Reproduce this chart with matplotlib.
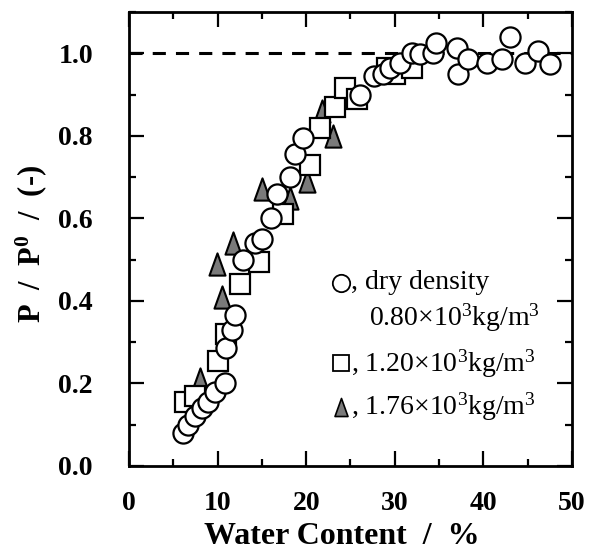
import matplotlib
matplotlib.use("Agg")
import matplotlib.pyplot as plt
from matplotlib.ticker import MultipleLocator
from matplotlib.path import Path

plt.rcParams['font.family'] = ['Liberation Serif', 'DejaVu Serif']
plt.rcParams['mathtext.default'] = 'regular'

# Data: dry density 0.80e3 kg/m3 (circles)
circ_x = [6.1, 6.7, 7.4, 8.2, 8.9, 9.7, 10.8, 11.0, 11.6, 12.0, 12.9, 14.2, 15.0,
          16.0, 16.7, 18.2, 18.7, 19.6, 26.1, 27.6, 28.7, 29.5, 30.6, 31.9, 32.8,
          34.3, 34.7, 37.0, 37.1, 38.3, 40.4, 42.1, 43.0, 44.7, 46.2, 47.5]
circ_y = [0.08, 0.10, 0.12, 0.14, 0.155, 0.18, 0.20, 0.285, 0.33, 0.365, 0.50, 0.54, 0.55,
          0.60, 0.66, 0.70, 0.756, 0.795, 0.90, 0.945, 0.95, 0.965, 0.976, 1.0, 0.998,
          1.0, 1.025, 1.012, 0.95, 0.985, 0.976, 0.986, 1.04, 0.976, 1.005, 0.973]
# 1.20e3 kg/m3 (squares)
sq_x = [6.3, 7.5, 10.0, 10.9, 12.5, 14.7, 17.4, 20.4, 21.6, 23.3, 24.4, 25.7, 29.1, 30.0, 31.9]
sq_y = [0.155, 0.17, 0.255, 0.32, 0.44, 0.495, 0.61, 0.73, 0.82, 0.87, 0.915, 0.89, 0.965, 0.95, 0.965]
# 1.76e3 kg/m3 (triangles)
tri_x = [8.0, 9.9, 10.5, 11.7, 15.0, 18.2, 20.1, 21.8, 23.0]
tri_y = [0.21, 0.49, 0.41, 0.54, 0.67, 0.65, 0.69, 0.86, 0.80]

xticks = [0, 10, 20, 30, 40, 50]
yticks = [0.0, 0.2, 0.4, 0.6, 0.8, 1.0]

fig = plt.figure(figsize=(5.98, 5.55), dpi=100)
ax = fig.add_axes([0.2157, 0.1604, 0.7408, 0.818])

ax.plot([0, 50], [1.0, 1.0], color='black', lw=2.2, dashes=(4.3, 3.3), zorder=1)

tri_marker = Path([(-0.36, -0.5), (0.36, -0.5), (0.0, 0.5), (-0.36, -0.5)],
                  [Path.MOVETO, Path.LINETO, Path.LINETO, Path.CLOSEPOLY])

ax.plot(tri_x, tri_y, linestyle='none', marker=tri_marker, ms=16,
        mfc='#7a7a7a', mec='black', mew=1.5, zorder=2)
ax.plot(sq_x, sq_y, linestyle='none', marker='s', ms=14.5,
        mfc='white', mec='black', mew=1.6, zorder=3)
ax.plot(circ_x, circ_y, linestyle='none', marker='o', ms=14.5,
        mfc='white', mec='black', mew=1.6, zorder=4)

ax.set_xlim(0, 50)
ax.set_ylim(0, 1.1)
ax.set_xticks(xticks)
ax.set_yticks(yticks)
ax.set_xticklabels([str(v) for v in xticks])
ax.set_yticklabels([f"{v:.1f}" for v in yticks])
ax.xaxis.set_minor_locator(MultipleLocator(5))
ax.yaxis.set_minor_locator(MultipleLocator(0.1))
ax.tick_params(which='both', direction='in', top=True, right=True, width=1.6)
ax.tick_params(which='major', length=10.5, labelsize=20)
ax.tick_params(axis='x', which='major', pad=18)
ax.tick_params(axis='y', which='major', pad=26)
ax.tick_params(which='minor', length=5)
for lab in ax.get_xticklabels() + ax.get_yticklabels():
    lab.set_fontweight('bold')
for sp in ax.spines.values():
    sp.set_linewidth(2)

fig.text(342 / 598, 1 - 537 / 555, 'Water Content  /  %', fontsize=23,
         fontweight='bold', ha='center', va='center')
fig.text(31 / 598, 1 - 244 / 555, 'P  /  P$^{0}$  /  (-)', fontsize=22,
         fontweight='bold', ha='center', va='center', rotation=90)

# Legend (manual)
def px2data(px, py):
    return (px - 129) / 8.86, (466 - py) / 414.0

mx, my = px2data(341, 282)
ax.plot([mx], [my], marker='o', ms=12.5, mfc='white', mec='black', mew=1.3, linestyle='none', zorder=5)
tx, ty = px2data(351, 282)
ax.text(tx, ty, ', dry density', fontsize=20, va='center', ha='left')
tx, ty = px2data(540, 317)
ax.text(tx, ty, '0.80×10$^{3}$kg/m$^{3}$', fontsize=20, va='center', ha='right')
mx, my = px2data(341, 363)
ax.plot([mx], [my], marker='s', ms=12, mfc='white', mec='black', mew=1.3, linestyle='none', zorder=5)
tx, ty = px2data(351, 363)
ax.text(tx, ty, ', 1.20×10$^{3}$kg/m$^{3}$', fontsize=20, va='center', ha='left')
mx, my = px2data(341, 407)
ax.plot([mx], [my], marker=tri_marker, ms=13, mfc='#7a7a7a', mec='black', mew=1.2, linestyle='none', zorder=5)
tx, ty = px2data(351, 407)
ax.text(tx, ty, ', 1.76×10$^{3}$kg/m$^{3}$', fontsize=20, va='center', ha='left')

fig.savefig('out.png', dpi=100)
